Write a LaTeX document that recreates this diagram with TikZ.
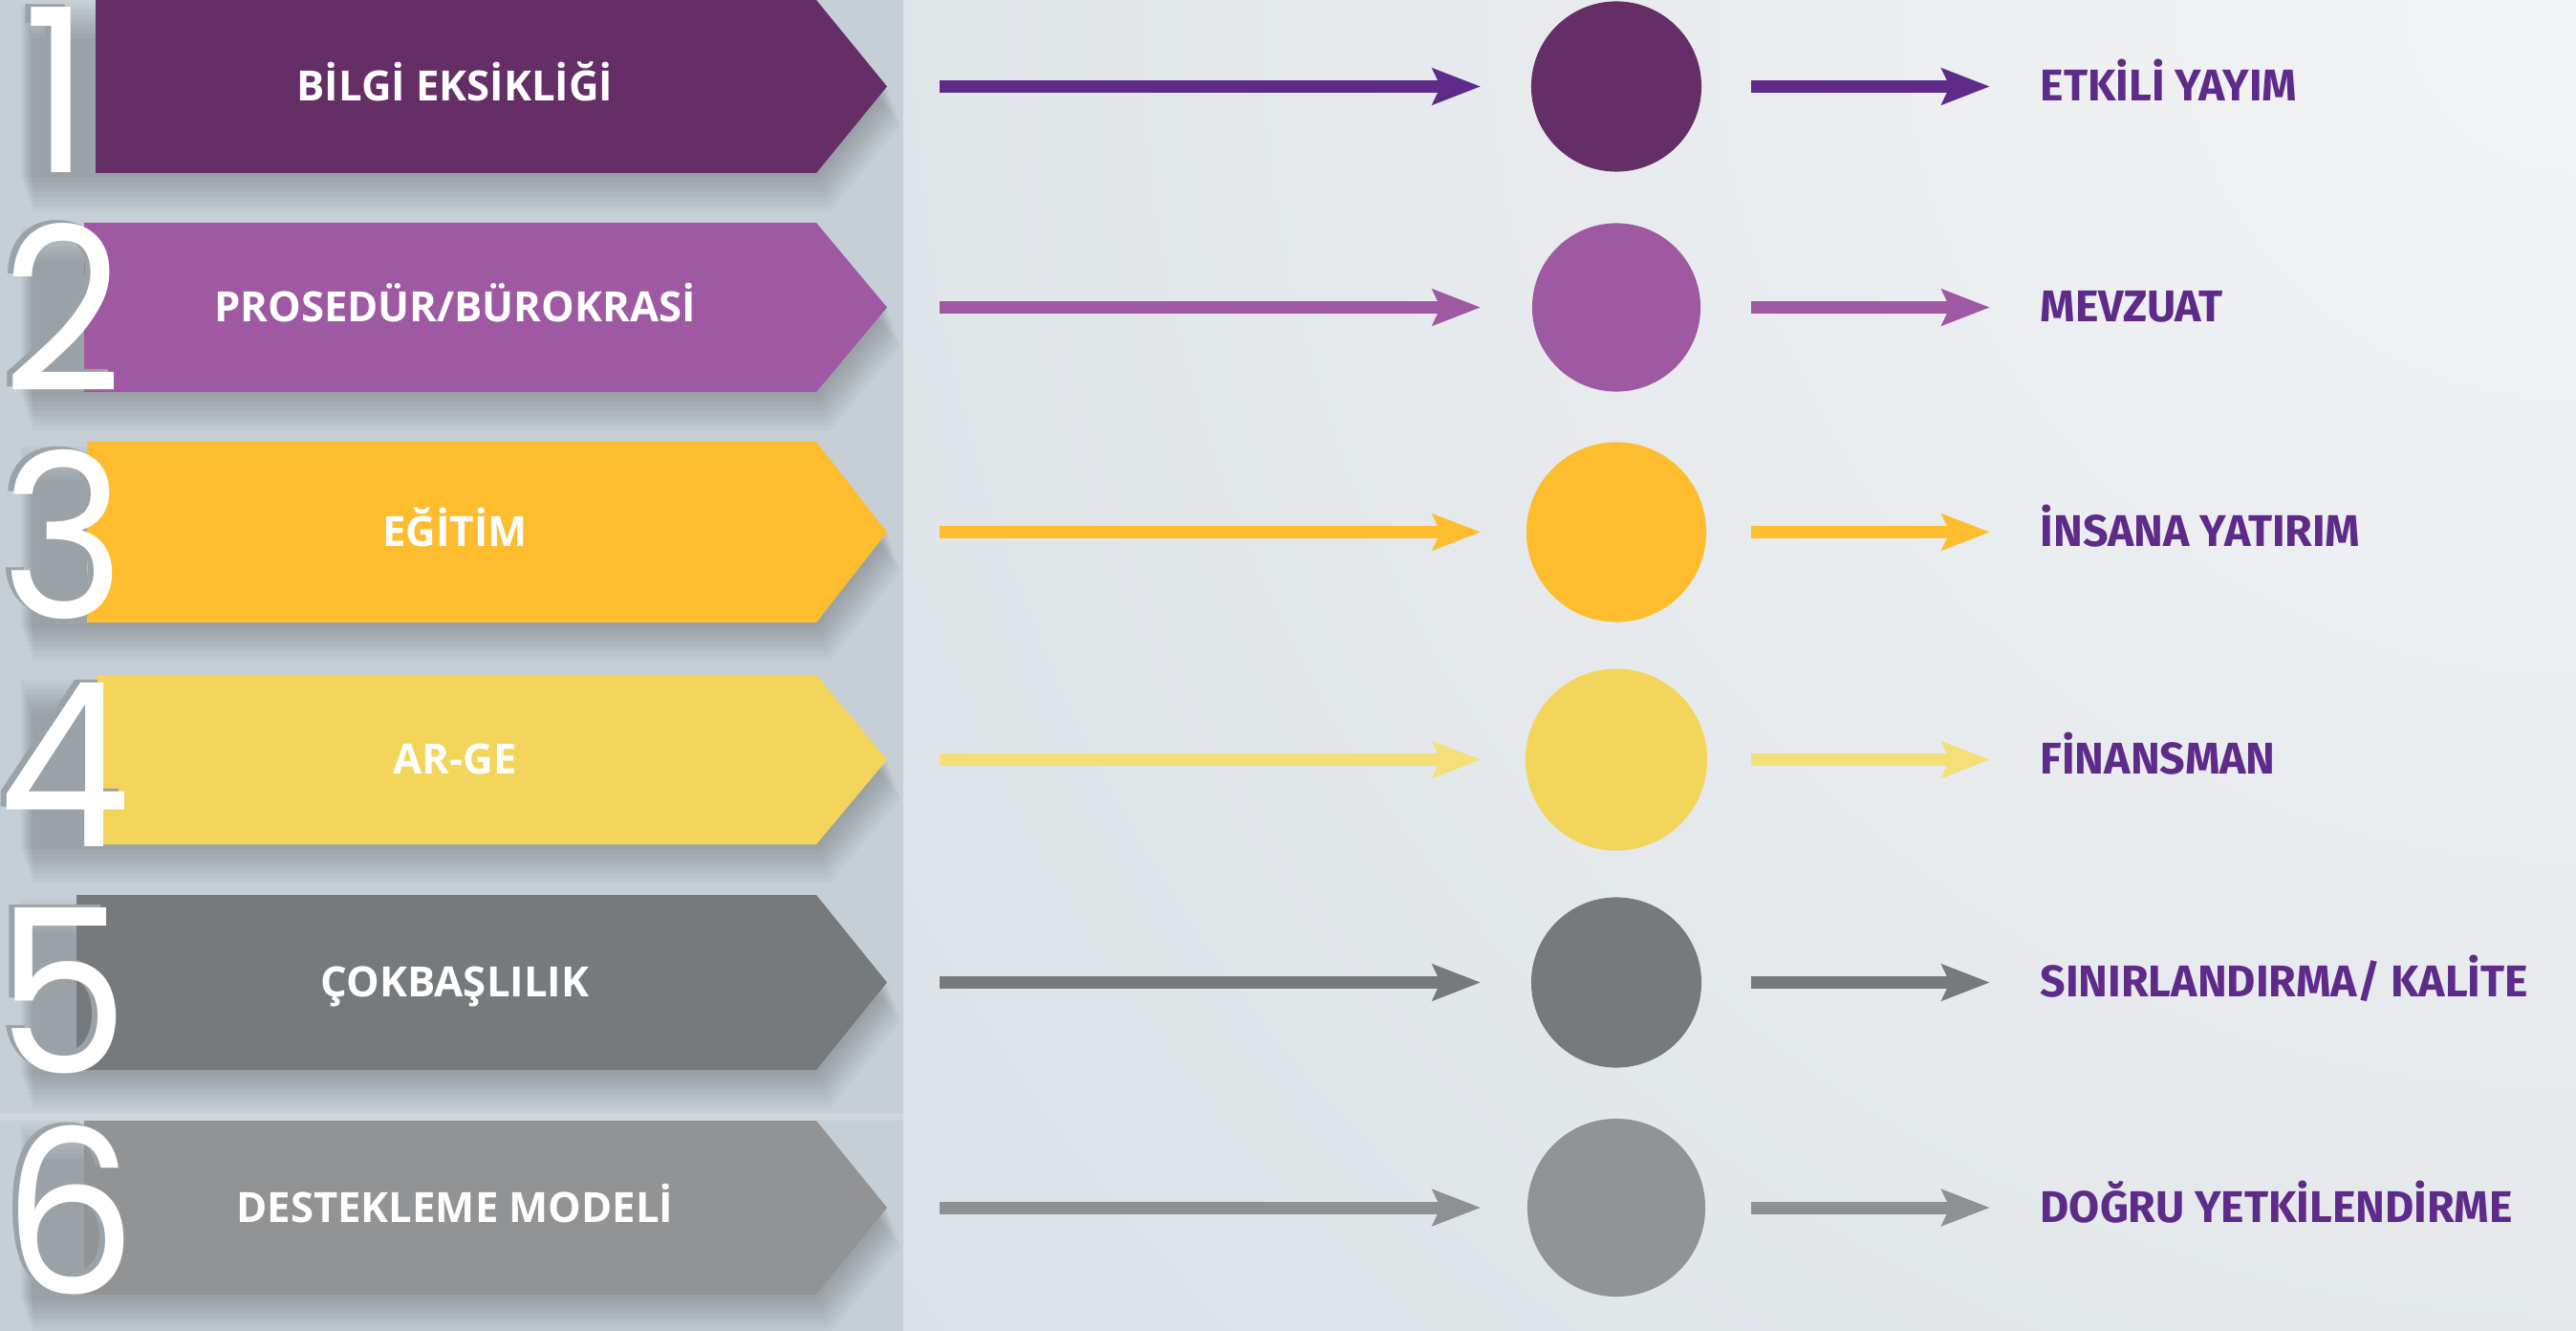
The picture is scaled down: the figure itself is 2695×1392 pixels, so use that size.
\documentclass[tikz,border=0pt]{standalone}
\usepackage{fontspec}
\setmainfont{Open Sans}
\newfontfamily\numfont{Poppins}[FakeStretch=0.92]
\newfontfamily\labfont{Open Sans}
\newfontfamily\rlabfont{Fira Sans}
\usetikzlibrary{arrows.meta}

\definecolor{bgbase}{HTML}{D3DBE0}
\definecolor{bgtop}{HTML}{F3F4F5}
\definecolor{panel}{HTML}{C5CFD5}
\definecolor{numsh}{HTML}{9AA3A9}
\definecolor{rtext}{HTML}{5E2B8A}
\definecolor{cA}{HTML}{652E66}
\definecolor{aA}{HTML}{5E2B8A}
\definecolor{cB}{HTML}{9E59A2}
\definecolor{cC}{HTML}{FEBD2F}
\definecolor{cD}{HTML}{F4D55B}
\definecolor{aD}{HTML}{F4DF78}
\definecolor{cE}{HTML}{777A7C}
\definecolor{cF}{HTML}{929395}
\definecolor{aF}{HTML}{8E9194}

\tikzset{
  lab/.style={anchor=base, inner sep=0pt, text=white,
    font=\labfont\bfseries\fontsize{12.4}{14}\selectfont},
  rlab/.style={anchor=base west, inner sep=0pt, text=rtext,
    font=\rlabfont\bfseries\fontsize{13.2}{15}\selectfont},
  dig/.style={anchor=base, inner sep=0pt, text=white,
    font=\numfont\fontsize{68}{70}\selectfont},
  digsh/.style={dig, text=numsh},
  dot/.style={circle, inner sep=0pt},
  conn/.style={line width=0.13cm,
    -{Stealth[length=0.5cm,width=0.37cm,inset=0.08cm]}},
}

\newcommand\drawrow[9]{%
  \pgfmathsetmacro\ym{(#2+#3)/2}%
  \pgfmathsetmacro\gapin{(141-#7)*0.01}%
  \pgfmathsetmacro\gapout{(140-#7)*0.01}%
  \edef\nx{\ifcase#1\or 60\or 66\or 66\or 68\or 66\or 73\fi}%
  \edef\ny{\ifcase#1\or 181\or 410\or 647\or 885\or 1122\or 1353\fi}%
  % shadow of the banner
  \foreach \k in {1,...,8}{%
    \fill[black,opacity=0.028,shift={(\k*1.8,\k*5)}]
      (20,#2) -- (854,#2) -- (928,\ym) -- (854,#3) -- (20,#3) -- cycle;}
  % banner
  \fill[#5] (#4,#2) -- (854,#2) -- (928,\ym) -- (854,#3) -- (#4,#3) -- cycle;
  \coordinate (tip#1) at (928,\ym);
  \node[lab] (lab#1) at (476,\ym+15) {#8};
  % number
  \node[digsh] at (\nx-6,\ny-3) {#1};
  \node[dig] (num#1) at (\nx,\ny) {#1};
  % circle
  \node[dot, fill=#5, minimum size=#7*0.02cm] (c#1) at (1691,\ym) {};
  % result label
  \node[rlab] (r#1) at (2134,\ym+15) {#9};
  % connectors
  \draw[conn, #6, shorten <=0.55cm, shorten >=\gapin cm] (tip#1) -- (c#1.west);
  \draw[conn, #6, shorten <=\gapout cm, shorten >=0.52cm] (c#1.east) -- (r#1.west |- c#1.east);
}

\begin{document}
\begin{tikzpicture}[x=0.01cm,y=-0.01cm]
\useasboundingbox (0,0) rectangle (2695,1392);
% background
\fill[bgbase] (0,0) rectangle (2695,1392);
\begin{scope}
  \clip (0,0) rectangle (2695,1392);
  \shade[inner color=bgtop, outer color=bgbase] (2695,0) circle (3000);
\end{scope}
% left panel
\fill[panel] (0,0) rectangle (945,1392);
\fill[bgbase!60!panel] (0,1164) rectangle (945,1172);

\drawrow{1}{0}{181}{100}{cA}{aA}{89}{BİLGİ EKSİKLİĞİ}{ETKİLİ YAYIM}
\drawrow{2}{233}{410}{88}{cB}{cB}{88}{PROSEDÜR/BÜROKRASİ}{MEVZUAT}
\drawrow{3}{462}{651}{91}{cC}{cC}{94}{EĞİTİM}{İNSANA YATIRIM}
\drawrow{4}{706}{883}{101}{cD}{aD}{95}{AR-GE}{FİNANSMAN}
\drawrow{5}{936}{1119}{80}{cE}{cE}{89}{ÇOKBAŞLILIK}{SINIRLANDIRMA/ KALİTE}
\drawrow{6}{1172}{1354}{88}{cF}{aF}{93}{DESTEKLEME MODELİ}{DOĞRU YETKİLENDİRME}
\end{tikzpicture}
\end{document}
